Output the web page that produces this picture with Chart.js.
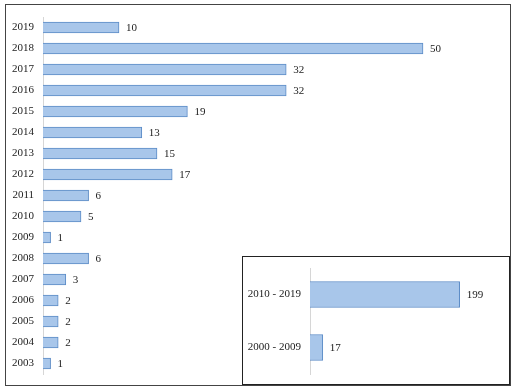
<!DOCTYPE html>
<html>
<head>
<meta charset="utf-8">
<script src="https://cdn.jsdelivr.net/npm/chart.js@4"></script>
<style>
  html, body { margin: 0; padding: 0; background: #fff; }
  #frame { position: absolute; left: 5px; top: 4px; width: 504px; height: 380px; border: 1.5px solid #444; }
  #main { position: absolute; left: 0; top: 0; }
  #inset { position: absolute; left: 242px; top: 256px; width: 266px; height: 127px; border: 1.5px solid #222; background: #fff; }
  #inset canvas { display: block; }
</style>
</head>
<body>
<div id="frame"></div>
<canvas id="main" width="513" height="388"></canvas>
<div id="inset"><canvas id="insetChart" width="266" height="127"></canvas></div>
<script>
// yearly counts
const years = ['2019','2018','2017','2016','2015','2014','2013','2012','2011','2010','2009','2008','2007','2006','2005','2004','2003'];
const counts = [10, 50, 32, 32, 19, 13, 15, 17, 6, 5, 1, 6, 3, 2, 2, 2, 1];

// decade totals
const decades = ['2010 - 2019', '2000 - 2009'];
const decadeTotals = [199, 17];

const FONT = 'Liberation Serif, "Times New Roman", serif';
const barFill = '#a8c6ea';
const barEdge = '#5b8bc6';

// draw value next to each bar end
const valueLabels = {
  id: 'valueLabels',
  afterDatasetsDraw(chart) {
    const ctx = chart.ctx;
    const meta = chart.getDatasetMeta(0);
    ctx.save();
    ctx.font = '11px ' + FONT;
    ctx.fillStyle = '#222';
    ctx.textBaseline = 'middle';
    ctx.textAlign = 'left';
    meta.data.forEach((bar, i) => {
      ctx.fillText(chart.data.datasets[0].data[i], bar.x + 7, bar.y + 1);
    });
    ctx.restore();
  }
};

function gradientFill(context) {
  const el = context.element;
  if (!el || !isFinite(el.y) || !context.chart.chartArea) return barFill;
  const h = context.dataset.barThickness;
  const g = context.chart.ctx.createLinearGradient(0, el.y - h / 2, 0, el.y + h / 2);
  g.addColorStop(0, '#bcd5f2');
  g.addColorStop(1, '#94b6e0');
  return g;
}

new Chart(document.getElementById('main'), {
  type: 'bar',
  data: {
    labels: years,
    datasets: [{
      data: counts,
      backgroundColor: gradientFill,
      borderColor: barEdge,
      borderWidth: 1,
      barThickness: 11
    }]
  },
  options: {
    indexAxis: 'y',
    responsive: false,
    animation: false,
    layout: { padding: { top: 17, bottom: 14, right: 14, left: 0 } },
    plugins: { legend: { display: false }, tooltip: { enabled: false } },
    scales: {
      x: { display: false, min: 0, max: 60 },
      y: {
        grid: { display: false, drawTicks: false },
        border: { display: true, color: '#d6d6d6', width: 1 },
        ticks: { color: '#222', font: { family: FONT, size: 11 }, padding: 9 },
        afterFit(scale) { scale.width = 43; scale.paddingTop = 0; scale.paddingBottom = 0; }
      }
    }
  },
  plugins: [valueLabels]
});

new Chart(document.getElementById('insetChart'), {
  type: 'bar',
  data: {
    labels: decades,
    datasets: [{
      data: decadeTotals,
      backgroundColor: gradientFill,
      borderColor: barEdge,
      borderWidth: 1,
      barThickness: 26
    }]
  },
  options: {
    indexAxis: 'y',
    responsive: false,
    animation: false,
    layout: { padding: { top: 11, bottom: 10, right: 11, left: 0 } },
    plugins: { legend: { display: false }, tooltip: { enabled: false } },
    scales: {
      x: { display: false, min: 0, max: 250 },
      y: {
        grid: { display: false, drawTicks: false },
        border: { display: true, color: '#d6d6d6', width: 1 },
        ticks: { color: '#222', font: { family: FONT, size: 11 }, padding: 9 },
        afterFit(scale) { scale.width = 67; scale.paddingTop = 0; scale.paddingBottom = 0; }
      }
    }
  },
  plugins: [valueLabels]
});
</script>
</body>
</html>
